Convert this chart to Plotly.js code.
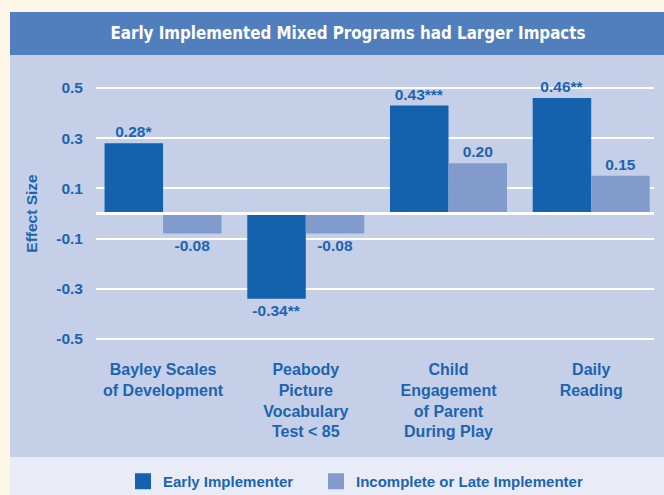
<!DOCTYPE html>
<html>
<head>
<meta charset="utf-8">
<script src="https://cdn.plot.ly/plotly-3.0.1.min.js"></script>
<style>html,body{margin:0;padding:0;background:#fef6e7;}</style>
</head>
<body>
<div id="chart" style="width:664px;height:495px;"></div>
<script>
// ---- data ----
const categories = ['Bayley Scales<br>of Development', 'Peabody<br>Picture<br>Vocabulary<br>Test &lt; 85', 'Child<br>Engagement<br>of Parent<br>During Play', 'Daily<br>Reading'];
const earlyValues = [0.28, -0.34, 0.43, 0.46];
const lateValues = [-0.08, -0.08, 0.20, 0.15];
const earlyLabels = ['0.28*', '-0.34**', '0.43***', '0.46**'];
const lateLabels = ['-0.08', '-0.08', '0.20', '0.15'];
const yTickVals = [-0.5, -0.3, -0.1, 0.1, 0.3, 0.5];
const yTickText = ['-0.5', '-0.3', '-0.1', '0.1', '0.3', '0.5'];
const seriesNames = ['Early Implementer', 'Incomplete or Late Implementer'];
const chartTitle = 'Early Implemented Mixed Programs had Larger Impacts';

// ---- style ----
const DARK = '#1462ad', LIGHT = '#819bcc', TXT = '#1c64b0';
const W = 664, H = 495, ML = 96, MR = 10, MT = 83, MB = 151;
const PW = W - ML - MR, PH = H - MT - MB;
const px = x => (x - ML) / PW;
const py = y => (H - MB - y) / PH;
const FONT = 'Liberation Sans, Arial, Helvetica, sans-serif';

const traces = [
  {type: 'bar', name: seriesNames[0], x: categories, y: earlyValues, text: earlyLabels,
   marker: {color: DARK}, textposition: 'outside', cliponaxis: false,
   textfont: {family: FONT, size: 15.5, color: TXT, weight: 'bold'}, hoverinfo: 'skip', showlegend: false},
  {type: 'bar', name: seriesNames[1], x: categories, y: lateValues, text: lateLabels,
   marker: {color: LIGHT}, textposition: 'outside', cliponaxis: false,
   textfont: {family: FONT, size: 15.5, color: TXT, weight: 'bold'}, hoverinfo: 'skip', showlegend: false},
  {type: 'scatter', mode: 'markers', name: seriesNames[0], x: [null], y: [null], legend: 'legend',
   marker: {symbol: 'square', size: 16, color: DARK}, hoverinfo: 'skip'},
  {type: 'scatter', mode: 'markers', name: seriesNames[1], x: [null], y: [null], legend: 'legend2',
   marker: {symbol: 'square', size: 16, color: LIGHT}, hoverinfo: 'skip'}
];

const legendFont = {family: FONT, size: 15, color: TXT, weight: 'bold'};
const layout = {
  width: W, height: H,
  margin: {l: ML, r: MR, t: MT, b: MB, pad: 0, autoexpand: false},
  paper_bgcolor: '#fef6e7', plot_bgcolor: 'rgba(0,0,0,0)',
  font: {family: FONT, color: TXT, size: 15.5, weight: 'bold'},
  barmode: 'group', bargap: 0.18, bargroupgap: 0,
  title: {text: chartTitle,
    font: {family: 'DejaVu Sans Condensed, DejaVu Sans, sans-serif', stretch: 'condensed', size: 16.8, color: '#ffffff', weight: 'bold'},
    xref: 'paper', x: px(348), xanchor: 'center', yref: 'container', y: 1 - 33 / H, yanchor: 'middle'},
  xaxis: {type: 'category', range: [-0.47, 3.44], showgrid: false, zeroline: false, showline: false,
    ticks: '', tickfont: {family: FONT, size: 16, color: TXT, weight: 'bold'}, ticklabelstandoff: 14, fixedrange: true},
  yaxis: {range: [-0.52, 0.52], tickmode: 'array', tickvals: yTickVals, ticktext: yTickText,
    showgrid: true, gridcolor: '#ffffff', gridwidth: 2, zeroline: true, zerolinecolor: '#ffffff', zerolinewidth: 3,
    showline: false, ticks: '', ticklabelstandoff: 12,
    tickfont: {family: FONT, size: 15.5, color: TXT, weight: 'bold'},
    title: {text: 'Effect Size', standoff: 14, font: {family: FONT, size: 15.5, color: TXT, weight: 'bold'}},
    fixedrange: true},
  showlegend: true,
  legend: {orientation: 'h', x: px(123), xanchor: 'left', y: py(465), yanchor: 'top',
    bgcolor: 'rgba(0,0,0,0)', font: legendFont, itemclick: false, itemdoubleclick: false},
  legend2: {orientation: 'h', x: px(316), xanchor: 'left', y: py(465), yanchor: 'top',
    bgcolor: 'rgba(0,0,0,0)', font: legendFont, itemclick: false, itemdoubleclick: false},
  shapes: [
    {type: 'rect', xref: 'paper', yref: 'paper', x0: px(10), x1: px(664), y0: py(55), y1: py(12), fillcolor: '#517fbe', line: {width: 0}, layer: 'below'},
    {type: 'rect', xref: 'paper', yref: 'paper', x0: px(10), x1: px(664), y0: py(457), y1: py(55), fillcolor: '#c5cfe8', line: {width: 0}, layer: 'below'},
    {type: 'rect', xref: 'paper', yref: 'paper', x0: px(10), x1: px(664), y0: py(495), y1: py(457), fillcolor: '#e9ecf7', line: {width: 0}, layer: 'below'},
    {type: 'line', xref: 'paper', yref: 'y', x0: 0, x1: 1, y0: 0, y1: 0, line: {color: '#ffffff', width: 3}, layer: 'above'}
  ]
};

Plotly.newPlot('chart', traces, layout, {displayModeBar: false, staticPlot: true});
</script>
</body>
</html>
